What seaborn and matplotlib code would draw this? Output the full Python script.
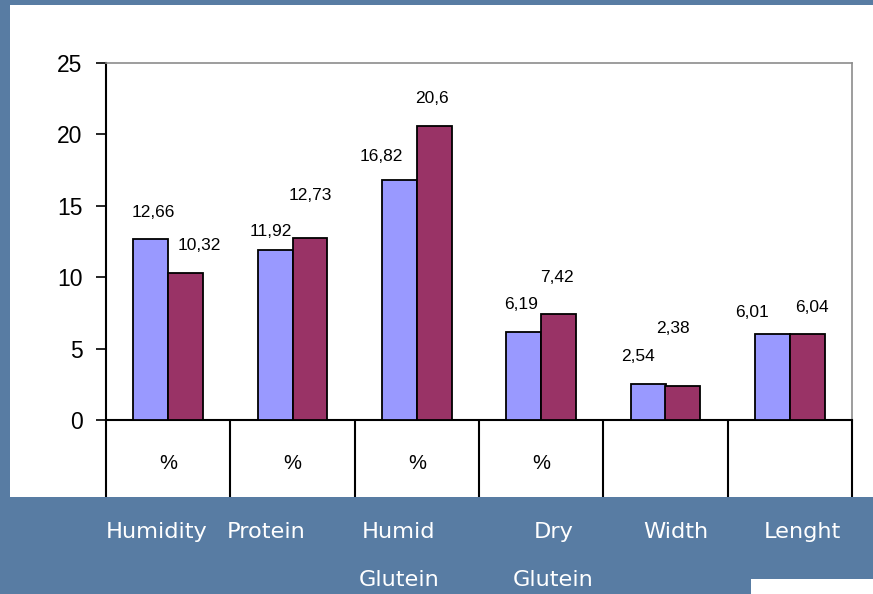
import numpy as np
import pandas as pd
import matplotlib
matplotlib.use('Agg')
import matplotlib.pyplot as plt
import matplotlib.transforms as mtransforms
from matplotlib.patches import Rectangle
import seaborn as sns

plt.rcParams['font.family'] = ['Liberation Sans', 'DejaVu Sans']

# Data
categories = ['Humidity', 'Protein', 'Humid\nGlutein', 'Dry\nGlutein', 'Width', 'Lenght']
units = ['%', '%', '%', '%', '', '']
series_1 = [12.66, 11.92, 16.82, 6.19, 2.54, 6.01]
series_2 = [10.32, 12.73, 20.6, 7.42, 2.38, 6.04]
series_names = ['Series 1', 'Series 2']

df = pd.DataFrame({
    'category': categories * 2,
    'value': series_1 + series_2,
    'series': [series_names[0]] * 6 + [series_names[1]] * 6,
})

# label nudges (pixels) to mimic the Excel layout
label_dx = [[3, -4, -18, -3, -10, -20], [14, 0, -2, -2, -10, 5]]
label_dy = [[27, 18, 23, 27, 27, 22], [27, 43, 27, 37, 58, 26]]
cat_dx = [-0.09, -0.21, -0.145, 0.10, 0.08, 0.10]

W, H = 873, 594
bg = '#587ca3'
fig = plt.figure(figsize=(W / 100, H / 100), dpi=100, facecolor=bg)

# white chart panel + small white box at the bottom right
fig.patches.append(Rectangle((10 / W, 1 - 497 / H), 863 / W, 492 / H,
                             transform=fig.transFigure, facecolor='white', edgecolor='none', zorder=-10))
fig.patches.append(Rectangle((751 / W, 0), 122 / W, 15 / H,
                             transform=fig.transFigure, facecolor='white', edgecolor='none', zorder=-10))

x0, x1 = 106, 852
y_top, y_zero, y_tab = 63, 420, 497
ax = fig.add_axes([x0 / W, 1 - y_zero / H, (x1 - x0) / W, (y_zero - y_top) / H])
tab = fig.add_axes([x0 / W, 1 - y_tab / H, (x1 - x0) / W, (y_tab - y_zero) / H])

sns.barplot(data=df, x='category', y='value', hue='series', order=categories,
            palette=['#9999ff', '#993366'], saturation=1, width=0.56, edgecolor='black',
            linewidth=1.3, legend=False, ax=ax, zorder=3)

ax.set_facecolor('none')
ax.set_xlim(-0.5, len(categories) - 0.5)
ax.set_ylim(0, 25)
ax.set_yticks(range(0, 26, 5))
ax.set_xticks([])
ax.set_xlabel('')
ax.set_ylabel('')
ax.tick_params(axis='y', length=7, width=1.2, pad=10, labelsize=16.5, colors='black')
for side in ['top', 'right']:
    ax.spines[side].set_color('#8c8c8c')
    ax.spines[side].set_linewidth(1.2)
for side in ['left', 'bottom']:
    ax.spines[side].set_color('black')
    ax.spines[side].set_linewidth(1.5)

# value labels with comma decimals
for s, cont in enumerate(ax.containers):
    for i, bar in enumerate(cont):
        v = bar.get_height()
        txt = f'{v:g}'.replace('.', ',')
        ax.annotate(txt, (bar.get_x() + bar.get_width() / 2, v),
                    xytext=(label_dx[s][i], label_dy[s][i]), textcoords='offset pixels',
                    ha='center', va='center', fontsize=12.5)

# unit table under the axis
tab.set_xlim(-0.5, len(categories) - 0.5)
tab.set_ylim(0, 1)
tab.set_facecolor('none')
tab.axis('off')
tab.vlines(np.arange(len(categories) + 1) - 0.5, 0, 1, color='black', linewidth=1.5,
           clip_on=False)
for i, u in enumerate(units):
    tab.text(i, 0.43, u, ha='center', va='center', fontsize=14.5)

# white category names on the slide background
trans = mtransforms.blended_transform_factory(ax.transData, fig.transFigure)
for i, c in enumerate(categories):
    ax.text(i + cat_dx[i], 1 - 522 / H, c, transform=trans, ha='center', va='top',
            color='white', fontsize=16.2, family='DejaVu Sans', linespacing=2.75,
            clip_on=False)

fig.savefig('out.png', dpi=100, facecolor=bg)
